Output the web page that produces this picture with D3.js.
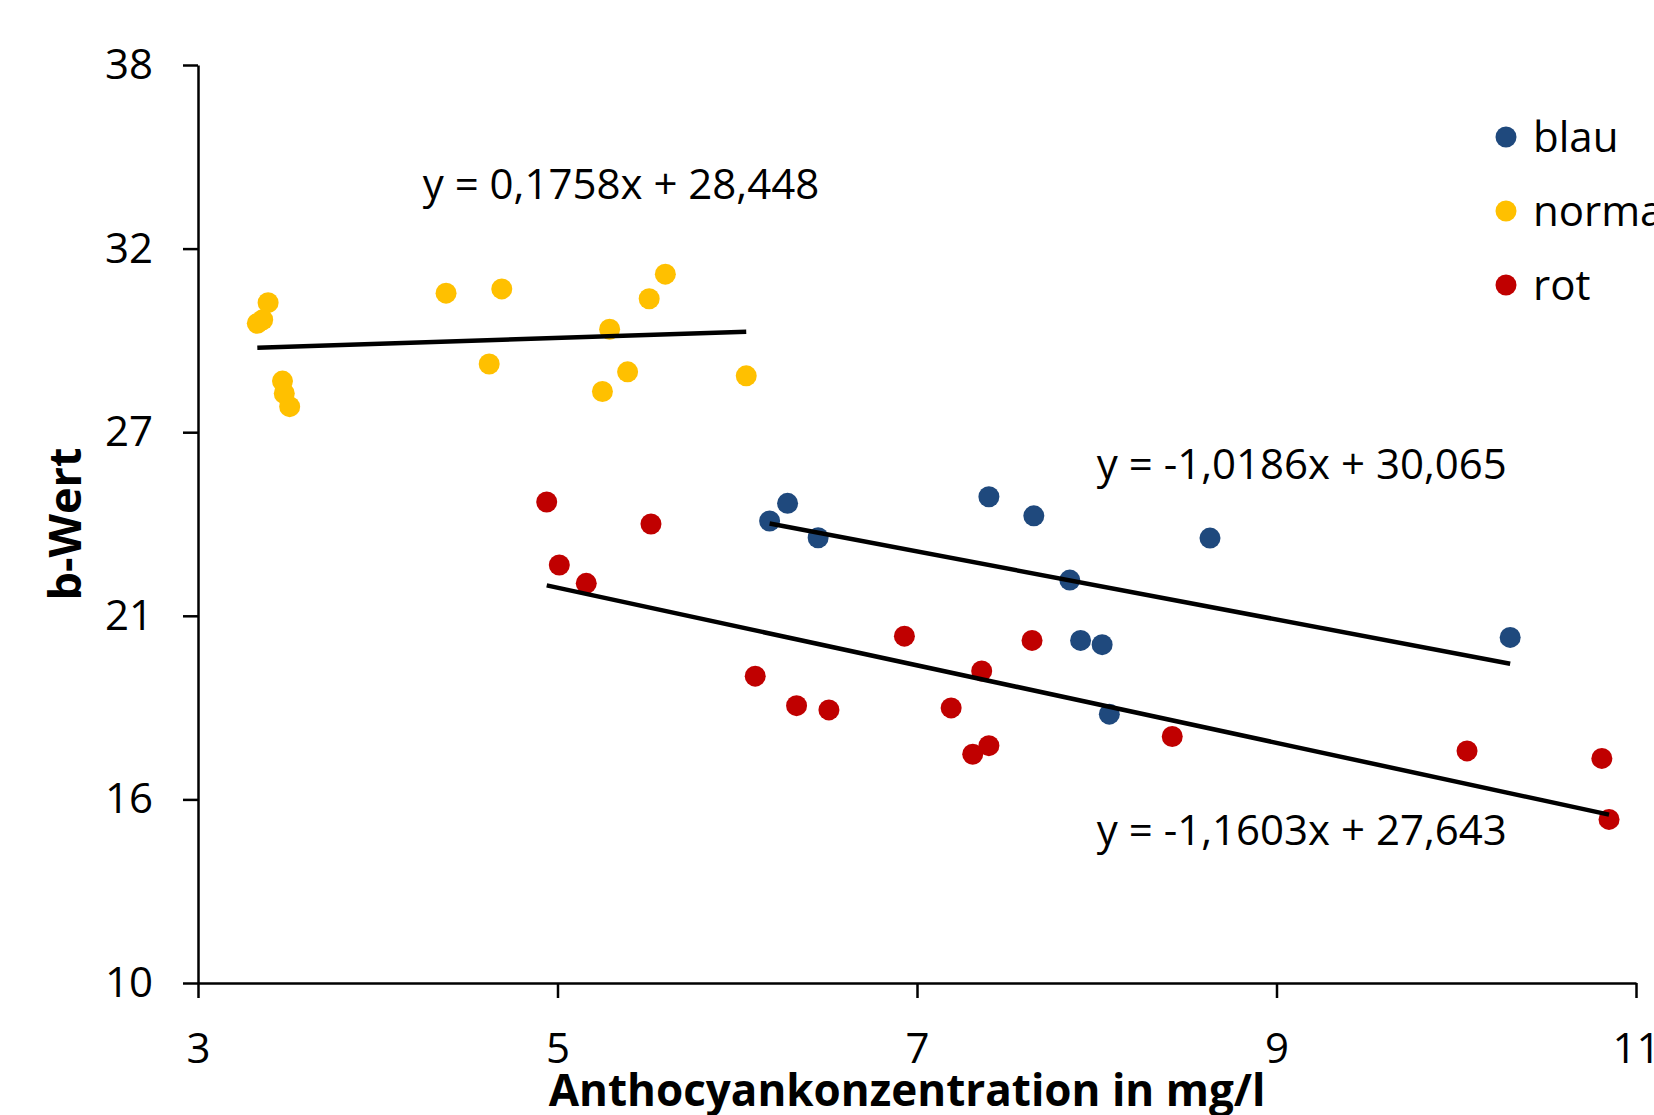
<!DOCTYPE html>
<html>
<head>
<meta charset="utf-8">
<script src="https://cdnjs.cloudflare.com/ajax/libs/d3/7.8.5/d3.min.js"></script>
<style>
    body { margin: 0; background: #fff; overflow: hidden; }
    #chart-area { width: 1654px; height: 1115px; }
    .axis path, .axis line { stroke: #000; stroke-width: 2.5px; }
    .axis text { font-family: "Open Sans", sans-serif; font-size: 42px; fill: #000; }
    .axis-title { font-family: "Open Sans", sans-serif; font-weight: bold; fill: #000; }
    .eq-label, .legend text { font-family: "Open Sans", sans-serif; font-size: 42px; fill: #000; }
</style>
</head>
<body>
<div id="chart-area"></div>
<script>

// series (x = Anthocyankonzentration in mg/l, y = b-Wert)
var seriesNames = ["blau", "normal", "rot"];
var seriesColors = ["#1F497D", "#FFC000", "#C00000"];

var blauX = [6.18, 6.28, 6.45, 7.40, 7.65, 7.85, 7.91, 8.03, 8.07, 8.63, 10.30];
var blauY = [24.09, 24.63, 23.58, 24.83, 24.25, 22.29, 20.45, 20.32, 18.20, 23.57, 20.54];

var normalX = [3.33, 3.36, 3.39, 3.47, 3.48, 3.51, 4.38, 4.62, 4.69, 5.25, 5.29, 5.39, 5.51, 5.60, 6.05];
var normalY = [30.12, 30.23, 30.75, 28.36, 27.98, 27.58, 31.04, 28.88, 31.17, 28.04, 29.94, 28.64, 30.87, 31.62, 28.52];

var rotX = [4.94, 5.01, 5.16, 5.52, 6.10, 6.33, 6.51, 6.93, 7.19, 7.31, 7.36, 7.40, 7.64, 8.42, 10.06, 10.81, 10.85];
var rotY = [24.67, 22.75, 22.19, 24.00, 19.36, 18.46, 18.33, 20.58, 18.39, 16.98, 19.52, 17.24, 20.45, 17.52, 17.08, 16.85, 14.99];

// trendline equations as printed in the chart
var equationTexts = ["y = -1,0186x + 30,065", "y = 0,1758x + 28,448", "y = -1,1603x + 27,643"];

var xTicks = [3, 5, 7, 9, 11];
var yTicks = [10, 15.6, 21.2, 26.8, 32.4, 38];


ScatterChart = function(_parentElement){
    this.parentElement = _parentElement;
    this.initVis();
}


/*
 * Initialize visualization (static content, e.g. SVG area or axes)
 */

ScatterChart.prototype.initVis = function(){
    var vis = this;

    vis.margin = {top: 65, bottom: 132, left: 198, right: 18};
    vis.width = 1654 - vis.margin.left - vis.margin.right;
    vis.height = 1115 - vis.margin.top - vis.margin.bottom;

    vis.svg = d3.select("#" + vis.parentElement).append("svg")
        .attr("width", 1654)
        .attr("height", 1115)
        .append("g")
        .attr("transform", "translate(" + vis.margin.left + "," + vis.margin.top + ")");

    vis.x = d3.scaleLinear()
        .domain([3, 11])
        .range([0, vis.width]);

    vis.y = d3.scaleLinear()
        .domain([10, 38])
        .range([vis.height, 0]);

    vis.xGroup = vis.svg.append("g")
        .attr("class", "axis x-axis")
        .attr("transform", "translate(0, " + vis.height + ")");

    vis.yGroup = vis.svg.append("g")
        .attr("class", "axis y-axis");

    vis.svg.append("text")
        .attr("class", "axis-title")
        .attr("x", vis.width / 2 - 10)
        .attr("y", vis.height + 123)
        .style("font-size", "44px")
        .style("text-anchor", "middle")
        .text("Anthocyankonzentration in mg/l");

    vis.svg.append("text")
        .attr("class", "axis-title")
        .attr("transform", "rotate(-90)")
        .attr("x", -(vis.y(24.0)))
        .attr("y", -133)
        .attr("dy", "0.35em")
        .style("font-size", "45px")
        .style("text-anchor", "middle")
        .text("b-Wert");

    vis.wrangleData();
}


/*
 * Data wrangling
 */

ScatterChart.prototype.wrangleData = function(){
    var vis = this;

    var xs = [blauX, normalX, rotX];
    var ys = [blauY, normalY, rotY];

    vis.displayData = seriesNames.map(function(name, i){
        var points = xs[i].map(function(v, j){ return {x: v, y: ys[i][j]}; });

        // least squares fit, like the excel trendline
        var mx = d3.mean(points, function(d){ return d.x; });
        var my = d3.mean(points, function(d){ return d.y; });
        var sxy = d3.sum(points, function(d){ return (d.x - mx) * (d.y - my); });
        var sxx = d3.sum(points, function(d){ return (d.x - mx) * (d.x - mx); });
        var slope = sxy / sxx;
        var intercept = my - slope * mx;
        var ext = d3.extent(points, function(d){ return d.x; });

        return {
            name: name,
            color: seriesColors[i],
            points: points,
            trend: ext.map(function(v){ return {x: v, y: intercept + slope * v}; }),
            equation: equationTexts[i]
        };
    });

    vis.updateVis();
}


/*
 * The drawing function
 */

ScatterChart.prototype.updateVis = function(){
    var vis = this;

    vis.xAxis = d3.axisBottom(vis.x)
        .tickValues(xTicks)
        .tickFormat(d3.format(".0f"))
        .tickSizeInner(15)
        .tickSizeOuter(0)
        .tickPadding(35);

    vis.yAxis = d3.axisLeft(vis.y)
        .tickValues(yTicks)
        .tickFormat(d3.format(".0f"))
        .tickSizeInner(15)
        .tickSizeOuter(0)
        .tickPadding(30);

    vis.xGroup.call(vis.xAxis);
    vis.yGroup.call(vis.yAxis);

    // points
    vis.series = vis.svg.selectAll(".series")
        .data(vis.displayData)
        .enter().append("g")
        .attr("class", "series")
        .attr("fill", function(d){ return d.color; });

    vis.series.selectAll("circle")
        .data(function(d){ return d.points; })
        .enter().append("circle")
        .attr("cx", function(d){ return vis.x(d.x); })
        .attr("cy", function(d){ return vis.y(d.y); })
        .attr("r", 10.5);

    // trendlines on top
    vis.line = d3.line()
        .x(function(d){ return vis.x(d.x); })
        .y(function(d){ return vis.y(d.y); });

    vis.svg.selectAll(".trend")
        .data(vis.displayData)
        .enter().append("path")
        .attr("class", "trend")
        .attr("d", function(d){ return vis.line(d.trend); })
        .attr("fill", "none")
        .attr("stroke", "#000")
        .attr("stroke-width", 4.5);

    // equation labels (anchor in data units)
    var eqPos = [{x: 8.0, y: 25.83}, {x: 4.25, y: 34.35}, {x: 8.0, y: 14.67}];

    vis.svg.selectAll(".eq-label")
        .data(vis.displayData)
        .enter().append("text")
        .attr("class", "eq-label")
        .attr("x", function(d, i){ return vis.x(eqPos[i].x); })
        .attr("y", function(d, i){ return vis.y(eqPos[i].y); })
        .attr("dy", "0.35em")
        .text(function(d){ return d.equation; });

    // legend
    vis.legend = vis.svg.append("g")
        .attr("class", "legend")
        .attr("transform", "translate(" + (1506 - vis.margin.left) + "," + (137 - vis.margin.top) + ")");

    vis.legendItem = vis.legend.selectAll("g")
        .data(vis.displayData)
        .enter().append("g")
        .attr("transform", function(d, i){ return "translate(0," + (i * 74) + ")"; });

    vis.legendItem.append("circle")
        .attr("r", 10.5)
        .attr("fill", function(d){ return d.color; });

    vis.legendItem.append("text")
        .attr("x", 27)
        .attr("dy", "0.35em")
        .text(function(d){ return d.name; });
}

var chart = new ScatterChart("chart-area");

</script>
</body>
</html>
